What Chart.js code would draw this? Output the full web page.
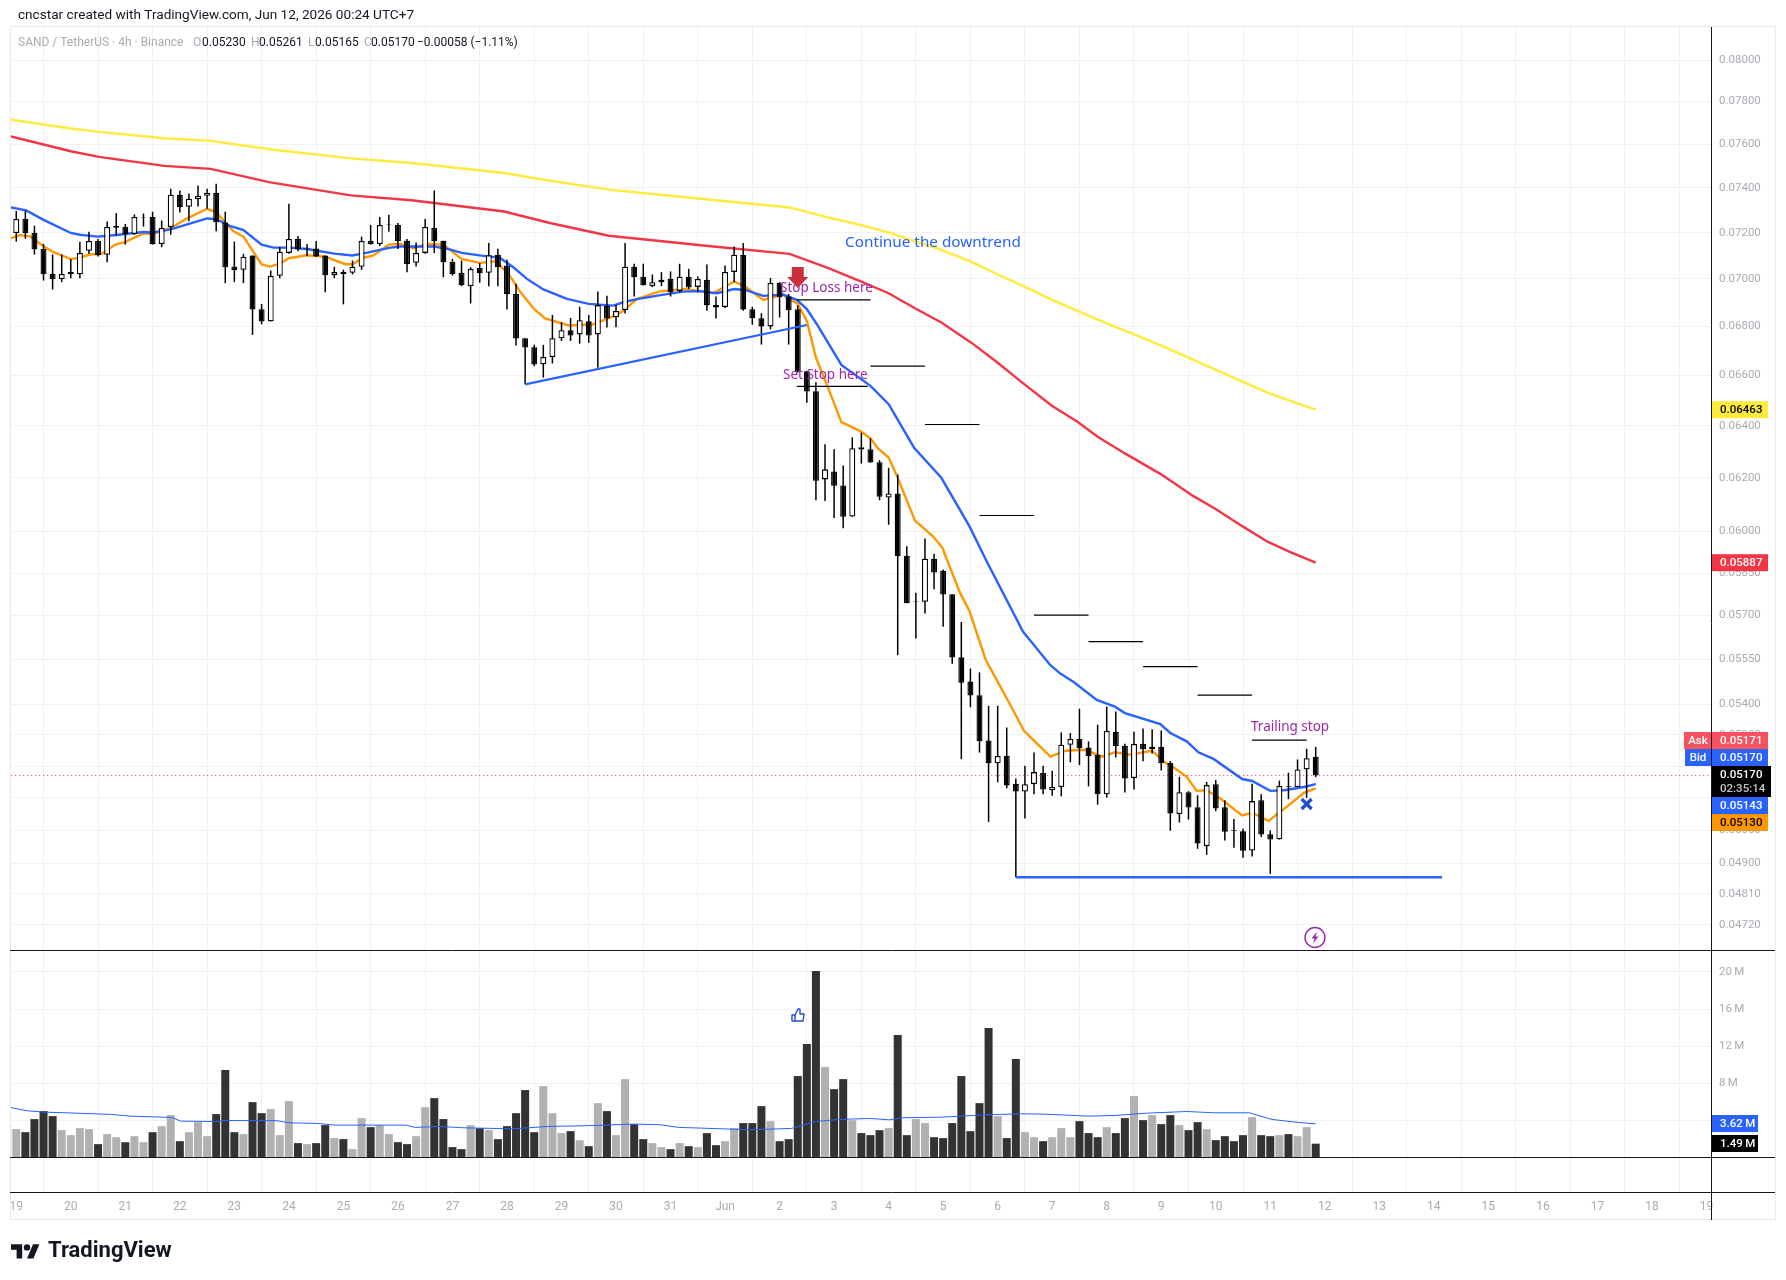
<!DOCTYPE html>
<html>
<head>
<meta charset="utf-8">
<title>SAND / TetherUS 4h</title>
<script src="https://cdn.jsdelivr.net/npm/chart.js@4/dist/chart.umd.min.js"></script>
<style>
  html, body { margin: 0; padding: 0; background: #fff; }
  canvas { display: block; }
</style>
</head>
<body>
<canvas id="chart" width="1786" height="1280"></canvas>
<script>
// candles run from index 0 (19 May 00:00), 6 per day, index -1 is the clipped one on the left edge
const firstIndex = -1;
const opens = [0.0704,
  0.07199,0.07261,0.07199,0.07129,0.07021,0.06999,0.0702,0.0702,0.07121,0.07164,0.07104,0.07222,
  0.07225,0.07194,0.07267,0.0727,0.07151,0.07225,0.07369,0.07315,0.07349,0.07364,0.07378,0.07245,
  0.07053,0.07039,0.07101,0.06872,0.06821,0.07013,0.07112,0.07173,0.07128,0.07131,0.07101,0.07016,
  0.0703,0.07026,0.07052,0.07165,0.07151,0.07234,0.07234,0.07165,0.07069,0.07112,0.07221,0.07165,
  0.07073,0.07026,0.0697,0.07047,0.07026,0.07104,0.07058,0.06936,0.06751,0.06714,0.06645,0.06674,
  0.06751,0.06784,0.06767,0.06821,0.06767,0.06885,0.06838,0.06868,0.07052,0.07009,0.0697,0.06986,
  0.07,0.06949,0.07009,0.06966,0.06996,0.06889,0.06881,0.0703,0.07104,0.06872,0.06834,0.068,
  0.06983,0.06925,0.06872,0.06616,0.06536,0.06194,0.06224,0.06171,0.06055,0.06317,0.06309,0.06259,
  0.06126,0.06141,0.05912,0.05747,0.05748,0.05901,0.05857,0.05775,0.05557,0.05475,0.0543,0.05282,
  0.05209,0.05233,0.05144,0.0512,0.05143,0.05178,0.05124,0.05134,0.05268,0.05287,0.05259,0.05236,
  0.05111,0.0531,0.05265,0.05162,0.05271,0.05254,0.05262,0.0521,0.0505,0.05118,0.05071,0.04952,
  0.05143,0.05071,0.05001,0.04997,0.04939,0.05093,0.04988,0.04973,0.05137,0.05134,0.0519,0.0523];
const highs = [0.07195,
  0.07296,0.07296,0.07231,0.07151,0.07105,0.07105,0.07086,0.07161,0.07204,0.07173,0.07249,0.07287,
  0.07239,0.07281,0.07285,0.07293,0.07254,0.07396,0.07388,0.07374,0.07411,0.07396,0.07419,0.07293,
  0.07161,0.07108,0.07101,0.06894,0.07036,0.07138,0.07328,0.07186,0.07151,0.07164,0.07101,0.07052,
  0.07039,0.07079,0.07183,0.07234,0.07269,0.07279,0.07243,0.07173,0.07157,0.07261,0.07388,0.07165,
  0.07086,0.07079,0.0705,0.07068,0.07155,0.0713,0.07082,0.06979,0.06751,0.06724,0.06724,0.06848,
  0.06818,0.06835,0.06882,0.06848,0.06946,0.06928,0.06891,0.07155,0.07065,0.07065,0.07019,0.07029,
  0.07032,0.07065,0.07043,0.0701,0.07062,0.06925,0.07058,0.0714,0.07155,0.06882,0.06855,0.07004,
  0.06986,0.06936,0.06887,0.06618,0.06572,0.06328,0.06309,0.06247,0.06355,0.06373,0.06351,0.06267,
  0.06238,0.06213,0.05946,0.0578,0.05975,0.05919,0.05863,0.05775,0.05678,0.05519,0.05506,0.05395,
  0.05395,0.05324,0.05161,0.05201,0.05243,0.05201,0.05185,0.05308,0.05306,0.05385,0.05279,0.05333,
  0.05392,0.05376,0.05271,0.0531,0.05321,0.05318,0.05314,0.05216,0.05166,0.05121,0.05108,0.0515,
  0.05156,0.05093,0.05035,0.05005,0.05144,0.05111,0.05,0.05154,0.05179,0.05221,0.05255,0.05261];
const lows = [0.0704,
  0.07161,0.07173,0.07105,0.06993,0.06955,0.06986,0.07003,0.07003,0.07108,0.07096,0.07072,0.07187,
  0.07148,0.07191,0.07227,0.07148,0.07137,0.07191,0.0729,0.07251,0.07316,0.07306,0.07206,0.06982,
  0.06986,0.06982,0.06765,0.06809,0.0682,0.07003,0.07108,0.07119,0.07099,0.07094,0.06943,0.07003,
  0.06892,0.07019,0.07039,0.07148,0.07142,0.07204,0.07129,0.07029,0.07053,0.07108,0.07111,0.07007,
  0.07014,0.06969,0.06896,0.06984,0.06969,0.06969,0.06871,0.06721,0.06564,0.06637,0.06591,0.06648,
  0.0674,0.0674,0.06729,0.06733,0.06631,0.06795,0.06797,0.06854,0.06925,0.06972,0.06965,0.06969,
  0.06925,0.06943,0.06957,0.06943,0.06865,0.06833,0.06877,0.06986,0.06865,0.06807,0.06725,0.06788,
  0.06837,0.06725,0.06611,0.06491,0.06116,0.06113,0.0605,0.06012,0.06054,0.06254,0.06257,0.06116,
  0.06025,0.05564,0.05743,0.05621,0.05707,0.05792,0.05661,0.05535,0.05222,0.0539,0.05243,0.05026,
  0.05149,0.0513,0.04859,0.05036,0.05111,0.05111,0.05107,0.05105,0.05212,0.05203,0.05136,0.05079,
  0.05101,0.05227,0.05117,0.05126,0.05215,0.05239,0.05186,0.04999,0.05024,0.05033,0.04944,0.04926,
  0.05059,0.04969,0.04947,0.04917,0.04921,0.0498,0.04869,0.04972,0.05096,0.05134,0.051,0.05165];
const closes = [0.07195,
  0.07261,0.07199,0.07128,0.0702,0.06999,0.07021,0.0703,0.07112,0.07164,0.07102,0.07225,0.0723,
  0.07193,0.0727,0.0727,0.0715,0.07221,0.07369,0.07313,0.07351,0.07364,0.07378,0.07246,0.0705,
  0.07037,0.07095,0.06871,0.0682,0.07013,0.07117,0.07173,0.07128,0.07131,0.07096,0.07016,0.0703,
  0.0702,0.07052,0.07164,0.0715,0.07234,0.07236,0.07163,0.07063,0.07112,0.07225,0.07163,0.07072,
  0.0702,0.06973,0.07043,0.07024,0.07102,0.0705,0.06935,0.0675,0.06713,0.06644,0.06674,0.06751,
  0.06784,0.06762,0.06826,0.06762,0.06889,0.06833,0.06864,0.07052,0.07007,0.06973,0.06986,0.06996,
  0.06943,0.07009,0.06963,0.07,0.06888,0.06879,0.0703,0.07104,0.06871,0.06834,0.068,0.06983,
  0.06922,0.06868,0.06614,0.06535,0.06189,0.06232,0.0617,0.06054,0.06313,0.06308,0.06258,0.06129,
  0.06141,0.0591,0.05743,0.05749,0.05901,0.05852,0.05774,0.05556,0.05471,0.05429,0.05279,0.05209,
  0.05232,0.05139,0.0512,0.05143,0.05181,0.05126,0.05134,0.05268,0.05287,0.05257,0.05231,0.05111,
  0.05313,0.05264,0.05161,0.05271,0.05254,0.05262,0.05209,0.05052,0.05118,0.0507,0.0496,0.0514,
  0.05067,0.04996,0.04999,0.04938,0.0509,0.04987,0.04972,0.05137,0.05135,0.05189,0.05225,0.0517];

// volume in millions, same index as the candles
const volumes = [3.49,
  3.06,2.73,4.14,5.0,4.46,2.95,2.41,3.17,3.06,1.44,2.52,2.19,1.65,2.3,1.65,2.73,3.38,4.57,1.76,2.73,3.81,2.3,4.68,9.42,
  2.73,2.52,5.97,4.78,5.22,2.41,6.08,1.55,1.44,1.55,3.49,2.09,1.98,0.9,4.24,3.27,3.49,2.52,1.65,1.44,2.3,5.43,6.4,4.14,
  1.12,0.9,3.49,3.17,2.95,1.98,3.38,4.78,7.27,2.73,7.7,4.78,2.63,2.84,1.87,1.22,5.86,5.0,2.41,8.45,3.6,1.98,1.55,1.12,
  0.9,1.55,1.22,1.12,2.63,1.33,1.76,3.17,3.71,3.71,5.54,3.92,1.76,1.98,8.78,12.23,20.1,9.75,7.37,8.45,4.03,2.63,2.41,2.95,
  3.17,13.2,2.41,4.14,3.71,2.19,2.09,3.71,8.78,2.84,5.86,13.96,4.46,2.09,10.61,2.73,2.19,1.76,2.19,3.17,2.19,3.92,2.63,2.19,
  3.27,2.63,4.24,6.62,4.03,4.57,3.6,4.57,3.49,2.95,3.81,3.06,1.87,2.3,1.76,2.41,4.35,2.41,2.3,2.41,2.52,2.3,3.27,1.49];

const blueIdx = [-0.7,1.1,3,6,7,9,11,14,15,17,19,21,22,23.5,25,27,28.3,30,32,35,37,38.5,41,42.3,46,47.7,
  49,51,53.2,54.7,56.2,58,60.6,63,65.7,66.8,68.3,70.9,73.4,75.3,77.1,79,80.2,82.2,84.4,85.9,87,88.1,90.8,
  94,96,98.8,101.8,104.9,106.8,110.8,113.8,114.9,116.4,118.9,120.9,122,125.9,127,128.8,130.1,131.8,134.9,136,138,139.5,141.7,143];
const blueEma = [0.07313,0.07299,0.07257,0.07199,0.07191,0.07183,0.0719,0.07203,0.07201,0.07215,0.07239,0.07263,0.0726,0.0723,0.07212,0.07148,0.07135,0.07135,0.07129,0.07109,0.07101,0.07112,0.07134,0.0714,0.0714,0.07127,
  0.07112,0.07101,0.07091,0.0705,0.07,0.06955,0.06915,0.06894,0.06887,0.06901,0.06914,0.06931,0.06946,0.06948,0.06939,0.06957,0.06953,0.06928,0.06933,0.06911,0.06872,0.06809,0.06642,
  0.06558,0.06485,0.06315,0.062,0.06019,0.05891,0.05644,0.0553,0.05502,0.05473,0.05414,0.05392,0.05371,0.05335,0.05306,0.05279,0.05244,0.05222,0.05159,0.05153,0.05122,0.05124,0.05134,0.05143];

const orangeIdx = [-0.7,0.4,1.5,3,4.1,6,7,8.1,9.4,10.9,12,14,15,17,18.7,21,22,23.9,25,27,27.9,29,30,32,34,36.2,37,38.2,39.3,41,42.3,43.7,45.2,47,
  49,51,52.8,54.3,55.5,57,58.2,60.8,63.5,66,66.8,68.3,70.7,73.4,75,76.7,79,80.2,82.2,84.4,86,87,88,
  89.4,90.8,92.9,94,94.8,96,97,98.9,100.9,101.9,103.8,104.9,106.7,108,
  109.2,110.9,113.8,115.5,117.6,119.5,120.9,122.6,125,126.3,127.4,128.8,129.9,131,132.5,134.9,136,137.8,139.8,141.7,143];
const orangeEma = [0.07175,0.0719,0.07184,0.07141,0.07115,0.07085,0.07091,0.07105,0.07108,0.07148,0.0716,0.07197,0.07194,0.07221,0.07261,0.07306,0.07291,0.07206,0.07183,0.07062,0.07053,0.07065,0.07089,0.07102,0.07096,0.07063,0.07063,0.07091,0.07101,0.07148,0.07151,0.07132,0.07151,0.07148,
  0.07086,0.07069,0.07076,0.07014,0.06943,0.06872,0.06833,0.06804,0.06809,0.06847,0.06865,0.06914,0.06946,0.06957,0.0695,0.06939,0.06989,0.06967,0.06911,0.06933,0.06894,0.06823,0.06672,
  0.06544,0.06414,0.06379,0.06351,0.06313,0.06277,0.062,0.0604,0.05982,0.05942,0.05784,0.05715,0.05547,0.05475,
  0.05408,0.05313,0.0523,0.05249,0.05252,0.0523,0.05244,0.05236,0.05249,0.05214,0.05195,0.05166,0.05122,0.05124,0.05098,0.05046,0.05054,0.05029,0.05072,0.05116,0.0513];

const redIdx = [-0.7,6,9.1,16.3,21.4,27.8,36.8,43.5,53.7,58.6,65.2,76.7,85.1,89.3,92.8,96,98.9,101.8,105.1,107.9,110.5,114,116.7,119,122,125.9,129.5,131.9,135,137.7,140.2,143];
const redMa = [0.07637,0.07567,0.07541,0.075,0.07486,0.07426,0.07366,0.07344,0.07294,0.07244,0.07187,0.0714,0.07108,0.07047,0.06992,0.06939,0.06876,0.06816,0.06733,0.06654,0.06577,0.06478,0.06418,0.06357,0.06293,0.06215,0.06132,0.06085,0.06018,0.05963,0.05925,0.05887];

const yellowIdx = [-0.7,6,9.1,16.3,21.4,28.1,36.8,43.5,53.7,58.6,65.2,76.7,85.1,89.3,92.8,96,98.7,101.8,105,107.9,111.3,114,119,125.9,131.9,135,137.7,140.5,143];
const yellowMa = [0.07715,0.07673,0.07657,0.07627,0.07615,0.07575,0.07534,0.07513,0.07467,0.07433,0.07392,0.07345,0.07312,0.07268,0.07235,0.07202,0.07165,0.07125,0.07075,0.07021,0.06961,0.06911,0.06828,0.06723,0.06624,0.06574,0.06531,0.06494,0.06463];

const volMaIdx = [-0.7,1.15,3.1,6.6,10.5,12.5,17.1,18.1,21.8,23.3,28.7,30.1,33.1,35.1,42.9,43.9,46.4,49.3,54.7,58.6,62.6,68,70.9,72.9,75.3,80.7,85.3,88,90.5,93.9,96.1,97.4,101.8,106.7,110.6,113,118,120.9,124.4,128.8,131.8,135.7,138.2,141.1,143];
const volMa = [5.4,5.04,4.89,4.78,4.64,4.46,4.32,3.92,3.88,3.99,3.96,3.74,3.67,3.49,3.49,3.24,3.35,3.2,3.09,3.35,3.42,3.6,3.53,3.24,3.17,2.99,3.13,3.88,4.1,4.21,4.06,4.28,4.35,4.6,4.71,4.68,4.46,4.53,4.78,4.96,4.82,4.82,4.1,3.78,3.62];

// drawn lines: [start index, end index, price]
const stopSteps = [[85.9,94,0.06911],[94,100,0.06637],[85.9,93.7,0.06556],[100,106,0.06405],[106,112,0.06059],[112,118,0.05702],[118,124,0.0561],[124,130,0.05525],[130,136,0.0543],[136,142,0.05283]];
const trendIdx = [56,87];
const trendVal = [0.06564,0.06806];
const supportIdx = [110,156.9];
const supportVal = [0.04859,0.04859];
const lastPrice = 0.0517;

const priceTicks = [0.08,0.078,0.076,0.074,0.072,0.07,0.068,0.066,0.064,0.062,0.06,0.0585,0.057,0.0555,0.054,0.053,0.052,0.051,0.05,0.049,0.0481,0.0472];
const volumeTicks = [4,8,12,16,20];
const dayLabels = ['19','20','21','22','23','24','25','26','27','28','29','30','31','Jun','2','3','4','5','6','7','8','9','10','11','12','13','14','15','16','17','18','19'];

const FONT = 'Roboto, "Noto Sans", sans-serif';
const GRID = '#f0f1f3';
const MUTED = '#a9abb2';
const INK = '#131722';

function xy(xs, ys) {
  return xs.map((x, i) => ({ x: x, y: ys[i] }));
}
function lineSet(data, color, width, yAxisID, order, extra) {
  return Object.assign({
    type: 'line', data: data, yAxisID: yAxisID, borderColor: color, borderWidth: width,
    pointRadius: 0, tension: 0, fill: false, order: order
  }, extra || {});
}
const indexes = opens.map((_, i) => i + firstIndex);
const isUp = i => closes[i] >= opens[i];

const datasets = [
  lineSet(xy(yellowIdx, yellowMa), '#ffeb3b', 2.4, 'y', 9),
  lineSet(xy(redIdx, redMa), '#f23645', 2.4, 'y', 9),
  lineSet(xy(orangeIdx, orangeEma), '#ff9800', 2.4, 'y', 8),
  lineSet(xy(blueIdx, blueEma), '#2962ff', 2.4, 'y', 7),
  lineSet([{ x: -1, y: lastPrice }, { x: 187, y: lastPrice }], '#f23645', 1, 'y', 6, { borderDash: [1, 3] }),
  {
    type: 'bar', label: 'wicks', yAxisID: 'y', order: 4, grouped: false, barThickness: 1.5,
    data: indexes.map((x, i) => ({ x: x, y: [lows[i], highs[i]] })),
    backgroundColor: '#000', borderWidth: 0, inflateAmount: 0
  },
  {
    type: 'bar', label: 'bodies', yAxisID: 'y', order: 3, grouped: false, barThickness: 6,
    data: indexes.map((x, i) => ({ x: x, y: [Math.min(opens[i], closes[i]), Math.max(opens[i], closes[i])] })),
    backgroundColor: indexes.map((_, i) => isUp(i) ? '#fff' : '#000'),
    borderColor: '#000', borderWidth: 1.3, borderSkipped: false, inflateAmount: 0
  },
  lineSet(xy(trendIdx, trendVal), '#2962ff', 2.2, 'y', 2),
  lineSet(xy(supportIdx, supportVal), '#2962ff', 2.4, 'y', 2),
  {
    type: 'bar', label: 'volume', yAxisID: 'vol', order: 5, grouped: false, barThickness: 8,
    data: indexes.map((x, i) => ({ x: x, y: volumes[i] })),
    backgroundColor: indexes.map((_, i) => isUp(i) ? '#b1b1b1' : '#333333'),
    borderWidth: 0, inflateAmount: 0
  },
  lineSet(xy(volMaIdx, volMa), '#2962ff', 1, 'vol', 1)
];
stopSteps.forEach(s => {
  datasets.push(lineSet([{ x: s[0], y: s[2] }, { x: s[1], y: s[2] }], '#000', 1.2, 'y', 2));
});

function tag(ctx, x, y, w, h, bg, fg, text) {
  ctx.fillStyle = bg;
  ctx.fillRect(x, y, w, h);
  ctx.fillStyle = fg;
  ctx.textAlign = 'left';
  ctx.textBaseline = 'middle';
  ctx.fillText(text, x + 8, y + h / 2 + 0.5);
}

const overlay = {
  id: 'overlay',
  afterDraw(chart) {
    const ctx = chart.ctx;
    const yS = chart.scales.y, xS = chart.scales.x, vS = chart.scales.vol;
    const area = chart.chartArea;
    const px = (i) => xS.getPixelForValue(i);
    const py = (p) => yS.getPixelForValue(p);
    const rightEdge = 1775;
    ctx.save();

    // outer frame and pane separators
    ctx.strokeStyle = '#e9eaed';
    ctx.lineWidth = 1;
    ctx.strokeRect(10.5, 26.5, rightEdge - 10, 1219.5 - 26.5);
    ctx.strokeStyle = INK;
    [yS.bottom, vS.getPixelForValue(0), area.bottom].forEach(y => {
      ctx.beginPath();
      ctx.moveTo(area.left, Math.round(y) + 0.5);
      ctx.lineTo(rightEdge, Math.round(y) + 0.5);
      ctx.stroke();
    });
    ctx.beginPath();
    ctx.moveTo(area.right + 0.5, 27);
    ctx.lineTo(area.right + 0.5, 1220);
    ctx.stroke();

    // top lines
    ctx.textBaseline = 'middle';
    ctx.textAlign = 'left';
    ctx.font = '13.6px ' + FONT;
    ctx.fillStyle = INK;
    ctx.fillText('cncstar created with TradingView.com, Jun 12, 2026 00:24 UTC+7', 18, 16);
    ctx.font = '12px ' + FONT;
    ctx.fillStyle = MUTED;
    ctx.fillText('SAND / TetherUS · 4h · Binance', 18, 43);
    [['O', 193], ['H', 251], ['L', 308], ['C', 364]].forEach(a => ctx.fillText(a[0], a[1], 43));
    ctx.fillStyle = INK;
    [['0.05230', 202], ['0.05261', 259], ['0.05165', 315], ['0.05170', 371], ['−0.00058 (−1.11%)', 417]].forEach(a => ctx.fillText(a[0], a[1], 43));

    // drawn notes
    ctx.font = '15.3px "Noto Sans", sans-serif';
    ctx.fillStyle = '#2962ff';
    ctx.fillText('Continue the downtrend', 845, 243);
    ctx.font = '13.5px "Noto Sans", sans-serif';
    ctx.fillStyle = '#9c27b0';
    ctx.fillText('Stop Loss here', 780, 288.5);
    ctx.fillText('Set Stop here', 783, 375.5);
    ctx.fillText('Trailing stop', 1251, 727);

    // sell arrow
    const ax = px(86);
    ctx.fillStyle = '#c9303e';
    ctx.beginPath();
    ctx.moveTo(ax - 6, 267);
    ctx.lineTo(ax + 6, 267);
    ctx.lineTo(ax + 6, 277);
    ctx.lineTo(ax + 10.5, 277);
    ctx.lineTo(ax, 288);
    ctx.lineTo(ax - 10.5, 277);
    ctx.lineTo(ax - 6, 277);
    ctx.closePath();
    ctx.fill();

    // cross mark
    const cx = px(142), cy = 804;
    ctx.strokeStyle = '#1f4fd0';
    ctx.lineWidth = 3.2;
    ctx.beginPath();
    ctx.moveTo(cx - 5, cy - 5);
    ctx.lineTo(cx + 5, cy + 5);
    ctx.moveTo(cx + 5, cy - 5);
    ctx.lineTo(cx - 5, cy + 5);
    ctx.stroke();

    // thumbs up over the volume pane
    ctx.strokeStyle = '#1f4fd0';
    ctx.lineWidth = 1.4;
    ctx.lineJoin = 'round';
    ctx.strokeRect(792, 1015, 3, 6);
    ctx.beginPath();
    ctx.moveTo(795, 1015);
    ctx.lineTo(798, 1009);
    ctx.lineTo(800, 1009);
    ctx.lineTo(800, 1014);
    ctx.lineTo(804, 1014);
    ctx.lineTo(803, 1021);
    ctx.lineTo(795, 1021);
    ctx.stroke();

    // lightning badge
    ctx.strokeStyle = '#9c27b0';
    ctx.fillStyle = '#9c27b0';
    ctx.lineWidth = 1.4;
    ctx.beginPath();
    ctx.arc(1315, 937.5, 10, 0, Math.PI * 2);
    ctx.stroke();
    ctx.beginPath();
    ctx.moveTo(1317, 931.5);
    ctx.lineTo(1311.5, 938.5);
    ctx.lineTo(1314.5, 938.5);
    ctx.lineTo(1313, 943.5);
    ctx.lineTo(1318.5, 936.5);
    ctx.lineTo(1315.5, 936.5);
    ctx.closePath();
    ctx.fill();

    // axis tags
    ctx.font = '500 11.5px ' + FONT;
    const ax0 = area.right + 1;
    tag(ctx, ax0, py(0.06463) - 8.5, 56, 17, '#ffeb3b', '#000', '0.06463');
    tag(ctx, ax0, py(0.05887) - 8.5, 56, 17, '#f23645', '#fff', '0.05887');
    tag(ctx, 1684, 732, 27, 17, '#f7525f', '#fff', '');
    tag(ctx, ax0, 732, 56, 17, '#f7525f', '#fff', '0.05171');
    tag(ctx, 1685, 749, 26, 17, '#2962ff', '#fff', '');
    tag(ctx, ax0, 749, 56, 17, '#2962ff', '#fff', '0.05170');
    ctx.fillStyle = '#fff';
    ctx.textAlign = 'center';
    ctx.fillText('Ask', 1698, 741);
    ctx.fillText('Bid', 1698, 758);
    ctx.textAlign = 'left';
    ctx.fillStyle = '#000';
    ctx.fillRect(ax0, 766, 59, 31);
    ctx.fillStyle = '#fff';
    ctx.fillText('0.05170', ax0 + 8, 775);
    ctx.fillStyle = '#c4c4c4';
    ctx.fillText('02:35:14', ax0 + 8, 789);
    tag(ctx, ax0, 797, 56, 17, '#2962ff', '#fff', '0.05143');
    tag(ctx, ax0, 814, 56, 17, '#ff9800', '#000', '0.05130');
    tag(ctx, ax0, 1115, 46, 17, '#2962ff', '#fff', '3.62\u2009M');
    tag(ctx, ax0, 1135, 46, 17, '#000', '#fff', '1.49\u2009M');

    // logo
    ctx.save();
    ctx.translate(11, 1241);
    ctx.scale(0.8, 0.8);
    ctx.fillStyle = INK;
    ctx.fill(new Path2D('M14 22H7V11H0V4h14v18zM28 22h-8l7.5-18h8L28 22z'));
    ctx.beginPath();
    ctx.arc(20, 8, 4, 0, Math.PI * 2);
    ctx.fill();
    ctx.restore();
    ctx.fillStyle = INK;
    ctx.font = '700 22px ' + FONT;
    ctx.textBaseline = 'middle';
    ctx.fillText('TradingView', 48, 1251);

    ctx.restore();
  }
};

new Chart(document.getElementById('chart'), {
  type: 'bar',
  data: { datasets: datasets },
  plugins: [overlay],
  options: {
    responsive: false,
    animation: false,
    devicePixelRatio: 1,
    layout: { padding: { left: 10, top: 27, right: 11, bottom: 60 } },
    plugins: { legend: { display: false }, tooltip: { enabled: false }, title: { display: false } },
    scales: {
      x: {
        type: 'linear',
        offset: false,
        min: -0.69,
        max: 186.5,
        afterBuildTicks(scale) { scale.ticks = dayLabels.map((_, i) => ({ value: i * 6 })); },
        afterFit(scale) { scale.height = 28; },
        grid: { color: GRID, drawTicks: false },
        border: { display: false },
        ticks: {
          autoSkip: false, maxRotation: 0, minRotation: 0, padding: 8, color: MUTED,
          font: { family: FONT, size: 12 },
          callback(v, i) { return dayLabels[i]; }
        }
      },
      y: {
        type: 'logarithmic',
        position: 'right',
        stack: 'panes',
        stackWeight: 923,
        bounds: 'data',
        min: 0.04648,
        max: 0.08163,
        afterBuildTicks(scale) { scale.ticks = priceTicks.map(v => ({ value: v })); },
        afterFit(scale) { scale.width = 64; },
        grid: { color: GRID, drawTicks: false },
        border: { display: false },
        ticks: {
          autoSkip: false, crossAlign: 'near', padding: 8, color: MUTED,
          font: { family: FONT, size: 11.5 },
          callback(v) { return v.toFixed(5); }
        }
      },
      vol: {
        type: 'linear',
        position: 'right',
        stack: 'panes',
        stackWeight: 242,
        min: -3.72,
        max: 22.37,
        afterBuildTicks(scale) { scale.ticks = volumeTicks.map(v => ({ value: v })); },
        afterFit(scale) { scale.width = 64; },
        grid: { color: GRID, drawTicks: false },
        border: { display: false },
        ticks: {
          autoSkip: false, crossAlign: 'near', padding: 8, color: MUTED,
          font: { family: FONT, size: 11.5 },
          callback(v) { return v.toFixed(0) + '\u2009M'; }
        }
      }
    }
  }
});
</script>
</body>
</html>
